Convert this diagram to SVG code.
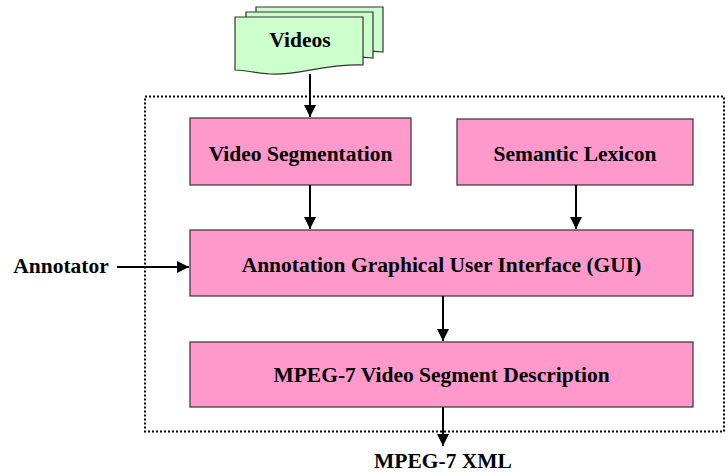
<svg xmlns="http://www.w3.org/2000/svg" width="728" height="474" viewBox="0 0 728 474">
<style>
.box{fill:#FF99CC;stroke:#333;stroke-width:1.2}
.doc{fill:#CCFFCC;stroke:#333;stroke-width:1.2}
.t{font-family:"Liberation Serif","Times New Roman",serif;font-weight:bold;font-size:21.5px;fill:#000;text-anchor:middle}
.c{stroke:#000;stroke-width:2;fill:none;marker-end:url(#ah)}
</style>
<defs>
<marker id="ah" markerWidth="12" markerHeight="12" refX="10" refY="5" orient="auto" markerUnits="userSpaceOnUse" viewBox="0 0 10 10">
<path d="M0,0 L10,5 L0,10 Z" fill="#000"/>
</marker>
</defs>
<rect x="145" y="96.5" width="579" height="335" fill="none" stroke="#000" stroke-width="2" stroke-dasharray="2,2"/>
<g id="videos">
<path class="doc" d="M256,7 H383 V52 C350,48 330,56 300,55 L256,55 Z"/>
<path class="doc" d="M246,12 H373 V58 C340,54 320,62 290,60 L246,60 Z"/>
<path class="doc" d="M235,17 H363 V65 C320,64 300,76 270,74 C255,73 245,70 235,70 Z"/>
<text class="t" x="300" y="47">Videos</text>
</g>
<g id="video-segmentation">
<rect class="box" x="190" y="118" width="221" height="67"/>
<text class="t" x="300.5" y="161">Video Segmentation</text>
</g>
<g id="semantic-lexicon">
<rect class="box" x="457" y="119" width="236" height="66"/>
<text class="t" x="575" y="161">Semantic Lexicon</text>
</g>
<g id="gui">
<rect class="box" x="190" y="230" width="503" height="66"/>
<text class="t" x="441.5" y="272">Annotation Graphical User Interface (GUI)</text>
</g>
<g id="mpeg7-desc">
<rect class="box" x="190" y="342" width="503" height="65"/>
<text class="t" x="441.5" y="382">MPEG-7 Video Segment Description</text>
</g>
<g id="annotator">
<text class="t" x="61" y="273">Annotator</text>
</g>
<g id="mpeg7-xml">
<text class="t" x="443" y="468">MPEG-7 XML</text>
</g>
<g id="connectors">
<line class="c" x1="310" y1="74" x2="310" y2="117"/>
<line class="c" x1="310" y1="185" x2="310" y2="229"/>
<line class="c" x1="576" y1="185" x2="576" y2="229"/>
<line class="c" x1="117" y1="267" x2="189" y2="267"/>
<line class="c" x1="443" y1="296" x2="443" y2="341"/>
<line class="c" x1="443" y1="407" x2="443" y2="446"/>
</g>
</svg>
